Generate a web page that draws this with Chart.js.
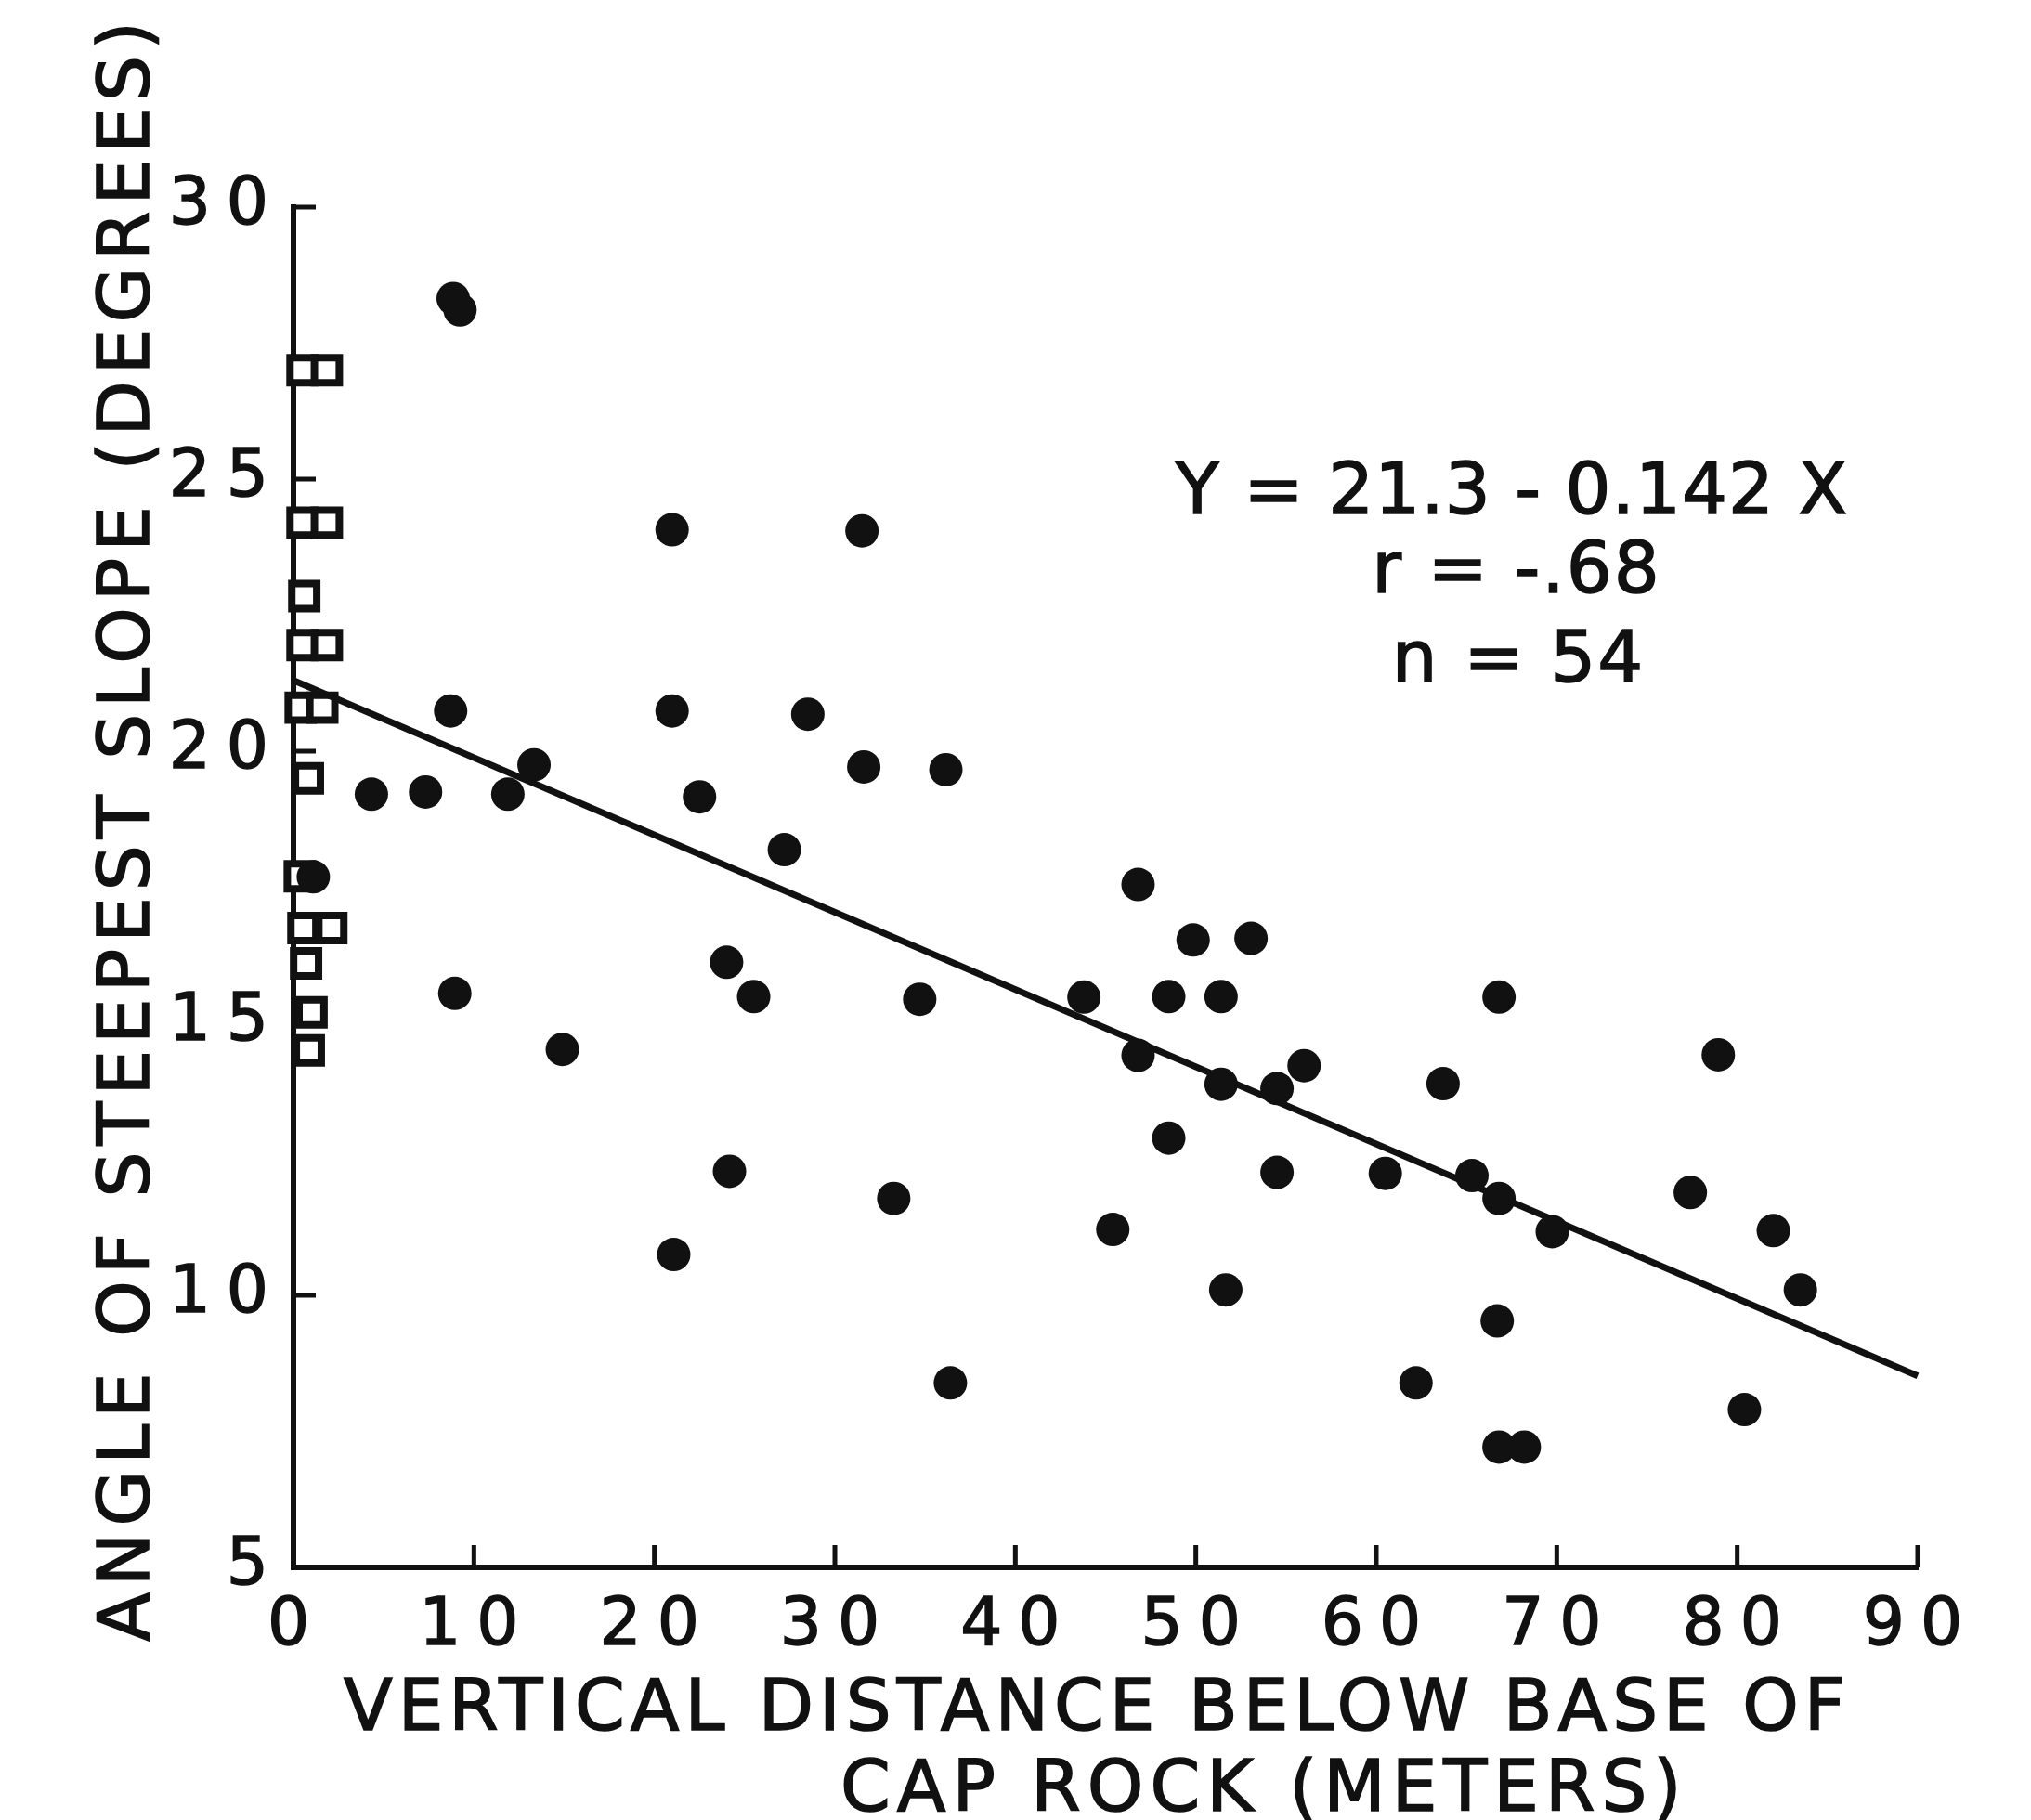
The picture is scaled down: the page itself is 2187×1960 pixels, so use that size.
<!DOCTYPE html>
<html>
<head>
<meta charset="utf-8">
<script src="https://cdn.jsdelivr.net/npm/chart.js@4.4.1/dist/chart.umd.min.js"></script>
<style>
    html, body { margin: 0; padding: 0; background: #ffffff; }
    #canvas_pendiente { display: block; }
</style>
</head>
<body>
<canvas id="canvas_pendiente" width="2187" height="1960"></canvas>
<script>
// Datos (distancia bajo la roca de cobertura vs. pendiente)
const ticksX = [0, 10, 20, 30, 40, 50, 60, 70, 80, 90];
const ticksY = [5, 10, 15, 20, 25, 30];

// puntos llenos
const puntosX = [8.85, 9.23, 20.98, 31.5, 8.71, 20.98, 28.5, 13.33, 31.6, 36.15, 4.32, 7.32, 11.88, 22.5, 27.2,
    46.8, 49.85, 53.06, 43.8, 48.5, 51.4, 66.8, 78.95, 46.8, 51.4, 54.5, 56.0, 63.7, 48.5, 54.5,
    60.5, 65.3, 66.8, 77.4, 45.4, 69.75, 82.0, 51.66, 83.5, 66.7, 62.2, 80.4, 66.8, 68.2,
    24.0, 8.94, 25.5, 34.7, 14.9, 24.16, 33.26, 21.07, 36.4, 1.1];
const puntosY = [28.32, 28.11, 24.07, 24.05, 20.74, 20.74, 20.68, 19.75, 19.71, 19.66, 19.21, 19.25, 19.21, 19.16, 18.19,
    17.55, 16.53, 16.56, 15.48, 15.49, 15.49, 15.48, 14.42, 14.41, 13.88, 13.8, 14.22, 13.89, 12.89, 12.26,
    12.24, 12.2, 11.78, 11.89, 11.21, 11.17, 11.19, 10.1, 10.1, 9.53, 8.39, 7.9, 7.21, 7.21,
    16.12, 15.55, 15.49, 15.44, 14.52, 12.28, 11.78, 10.75, 8.39, 17.69];

// cuadros abiertos pegados al eje (roca de cobertura)
const cuadrosX = [0.5, 1.85, 0.5, 1.85, 0.6, 0.5, 1.85, 0.4, 1.6, 0.8, 0.35, 0.55, 2.1, 0.7, 1.0, 0.85];
const cuadrosY = [27.0, 27.0, 24.2, 24.2, 22.85, 21.95, 21.95, 20.8, 20.8, 19.5, 17.7, 16.75, 16.75, 16.1, 15.2, 14.5];

// recta de regresion (extremos leidos)
const rectaX = [0, 90];
const rectaY = [21.3, 8.52];

const TINTA = '#111111';
const FUENTE = "'DejaVu Sans', 'Liberation Sans', sans-serif";

function pares(xs, ys) {
    return xs.map(function(v, i) { return { x: v, y: ys[i] }; });
}

// marcas de escala hacia adentro del area
const marcasInternas = {
    id: 'marcasInternas',
    beforeDraw(chart) {
        chart.ctx.letterSpacing = '17px';
    },
    beforeDatasetsDraw(chart) {
        const { ctx, chartArea: a } = chart;
        const sx = chart.scales.x, sy = chart.scales.y;
        ctx.save();
        ctx.strokeStyle = TINTA;
        ctx.lineWidth = 5;
        ctx.beginPath();
        ticksX.forEach(function(v) {
            const px = sx.getPixelForValue(v);
            ctx.moveTo(px, a.bottom);
            ctx.lineTo(px, a.bottom - 24);
        });
        ticksY.forEach(function(v) {
            const py = sy.getPixelForValue(v);
            ctx.moveTo(a.left, py);
            ctx.lineTo(a.left + 24, py);
        });
        ctx.stroke();
        ctx.restore();
    }
};

function escribir(ctx, txt, x, y) {
    ctx.fillText(txt, x, y);
    ctx.strokeText(txt, x, y);
}

// titulos de ejes y texto de la ecuacion
const textos = {
    id: 'textos',
    afterDraw(chart) {
        const ctx = chart.ctx;
        ctx.save();
        ctx.fillStyle = TINTA;
        ctx.strokeStyle = TINTA;
        ctx.lineWidth = 1.6;
        ctx.font = '77px ' + FUENTE;
        ctx.textBaseline = 'alphabetic';

        ctx.letterSpacing = '6px';
        ctx.textAlign = 'left';
        escribir(ctx, 'VERTICAL DISTANCE BELOW BASE OF', 370, 1863);
        ctx.letterSpacing = '7px';
        escribir(ctx, 'CAP ROCK (METERS)', 905, 1950);

        ctx.save();
        ctx.translate(160, 892);
        ctx.rotate(-Math.PI / 2);
        ctx.letterSpacing = '7px';
        ctx.textAlign = 'center';
        escribir(ctx, 'ANGLE OF STEEPEST SLOPE (DEGREES)', 0, 0);
        ctx.restore();

        ctx.textAlign = 'center';
        ctx.letterSpacing = '1px';
        escribir(ctx, 'Y = 21.3 - 0.142 X', 1628, 553);
        ctx.letterSpacing = '2px';
        escribir(ctx, 'r = -.68', 1633, 638);
        escribir(ctx, 'n = 54', 1635, 734);
        ctx.restore();
    }
};

new Chart(document.getElementById('canvas_pendiente'), {
    type: 'scatter',
    data: {
        datasets: [
            {
                type: 'line',
                data: pares(rectaX, rectaY),
                borderColor: TINTA,
                borderWidth: 7,
                pointRadius: 0,
                fill: false,
                clip: false,
                order: 0
            },
            {
                data: pares(puntosX, puntosY),
                pointStyle: 'circle',
                pointRadius: 18,
                backgroundColor: TINTA,
                borderWidth: 0,
                clip: false,
                order: 1
            },
            {
                data: pares(cuadrosX, cuadrosY),
                pointStyle: 'rect',
                pointRadius: 19,
                backgroundColor: '#ffffff',
                borderColor: TINTA,
                borderWidth: 8,
                clip: false,
                order: 2
            }
        ]
    },
    options: {
        responsive: false,
        animation: false,
        devicePixelRatio: 1,
        layout: { padding: { top: 223, right: 122, left: 0, bottom: 0 } },
        plugins: {
            legend: { display: false },
            tooltip: { enabled: false }
        },
        scales: {
            x: {
                type: 'linear',
                min: 0,
                max: 90,
                afterBuildTicks: function(s) { s.ticks = ticksX.map(function(v) { return { value: v }; }); },
                afterFit: function(s) { s.height = 272; },
                ticks: {
                    color: TINTA,
                    font: { family: FUENTE, size: 71, lineHeight: 1 },
                    padding: 29,
                    labelOffset: 3,
                    textStrokeColor: TINTA,
                    textStrokeWidth: 1.5,
                    maxRotation: 0,
                    autoSkip: false
                },
                grid: { display: false, drawTicks: false },
                border: { display: true, color: TINTA, width: 6 }
            },
            y: {
                type: 'linear',
                min: 5,
                max: 30,
                afterBuildTicks: function(s) { s.ticks = ticksY.map(function(v) { return { value: v }; }); },
                afterFit: function(s) { s.width = 316; },
                ticks: {
                    color: TINTA,
                    font: { family: FUENTE, size: 71, lineHeight: 1 },
                    padding: 10,
                    textStrokeColor: TINTA,
                    textStrokeWidth: 1.5,
                    autoSkip: false
                },
                grid: { display: false, drawTicks: false },
                border: { display: true, color: TINTA, width: 6 }
            }
        }
    },
    plugins: [marcasInternas, textos]
});
</script>
</body>
</html>
